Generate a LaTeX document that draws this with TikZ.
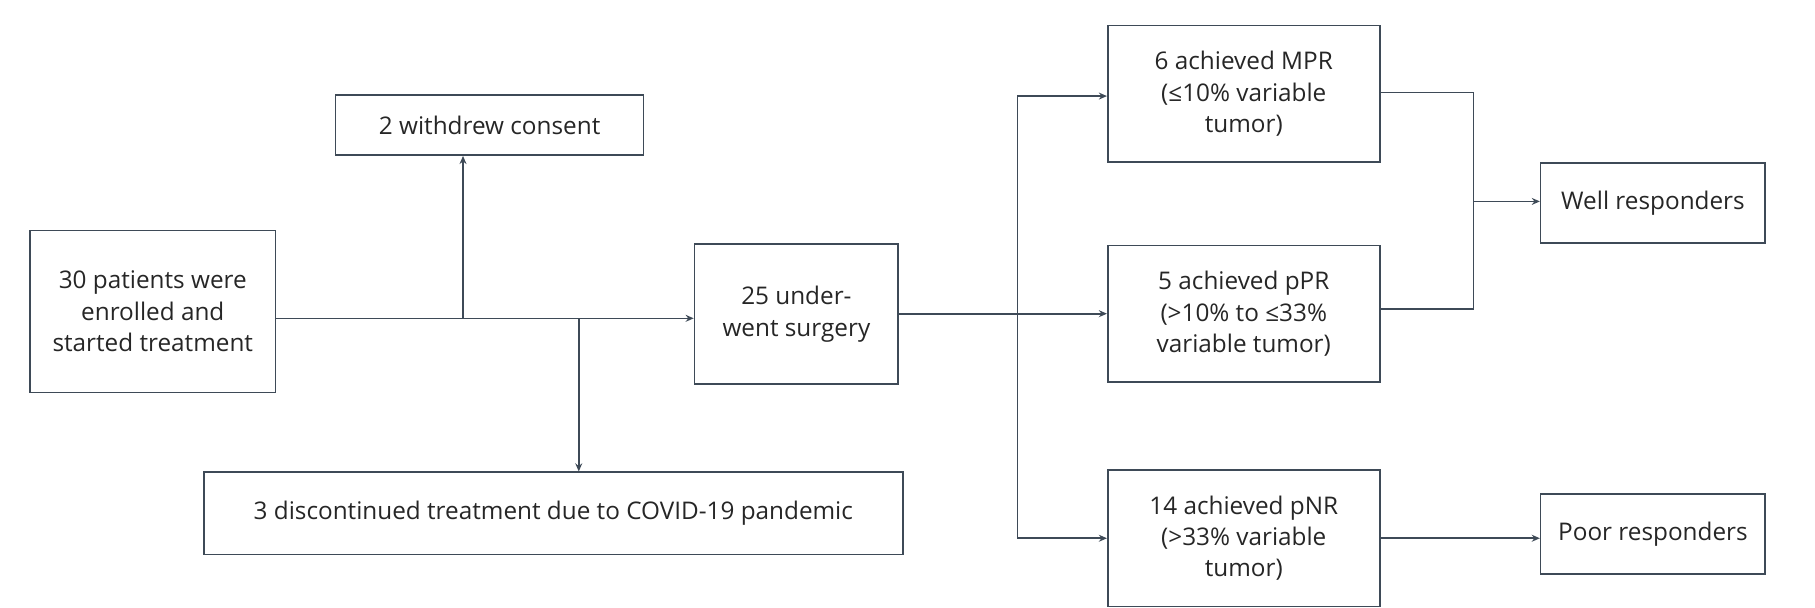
\documentclass[tikz,border=0pt]{standalone}
\usepackage{fontspec}
\setmainfont{Open Sans}
\usetikzlibrary{arrows.meta}
\definecolor{ln}{HTML}{3E4A57}
\begin{document}
\begin{tikzpicture}[x=1pt,y=-1pt,
  box/.style={draw=ln,line width=1.4pt,align=center,inner sep=0pt,font=\fontsize{21}{27}\selectfont,text=black!85},
  arr/.style={draw=ln,line width=1.4pt,-{Stealth[length=7pt,width=6pt]}},
  ln/.style={draw=ln,line width=1.4pt}]
\useasboundingbox (0,0) rectangle (1568,525);
\newcommand{\bx}[6]{\node[box,minimum width=#4-#2,minimum height=#5-#3] (#1) at ({(#2+#4)/2},{(#3+#5)/2}) {#6};}
\bx{A}{26}{199}{238}{339}{30 patients were\\enrolled and\\started treatment}
\bx{W}{290}{82}{556}{134}{2 withdrew consent}
\bx{S}{600}{211}{776}{332}{25 under-\\went surgery}
\bx{D}{176}{408}{780}{479}{3 discontinued treatment due to COVID-19 pandemic}
\bx{M}{957}{22}{1192}{140}{6 achieved MPR\\(≤10\% variable\\tumor)}
\bx{P}{957}{212}{1192}{330}{5 achieved pPR\\(>10\% to ≤33\%\\variable tumor)}
\bx{N}{957}{406}{1192}{524}{14 achieved pNR\\(>33\% variable\\tumor)}
\bx{WR}{1331}{141}{1525}{210}{Well responders}
\bx{PR}{1331}{427}{1525}{496}{Poor responders}
\coordinate (j1) at (400,275);
\coordinate (j2) at (500,275);
\coordinate (v1) at (879,83);
\coordinate (v2) at (879,465);
\coordinate (r1) at (1273,80);
\coordinate (r2) at (1273,267);
\coordinate (r3) at (1273,174);
\draw[arr] (A.east|-j1) -- (S.west|-j1);
\draw[arr] (j1) -- (W.south-|j1);
\draw[arr] (j2) -- (D.north-|j2);
\draw[arr] (S.east|-0,271) -- (P.west|-0,271);
\draw[ln] (v1) -- (v2);
\draw[arr] (v1) -- (M.west|-v1);
\draw[arr] (v2) -- (N.west|-v2);
\draw[ln] (M.east|-r1) -- (r1) -- (r2) -- (P.east|-r2);
\draw[arr] (r3) -- (WR.west|-r3);
\draw[arr] (N.east|-v2) -- (PR.west|-v2);
\end{tikzpicture}
\end{document}
